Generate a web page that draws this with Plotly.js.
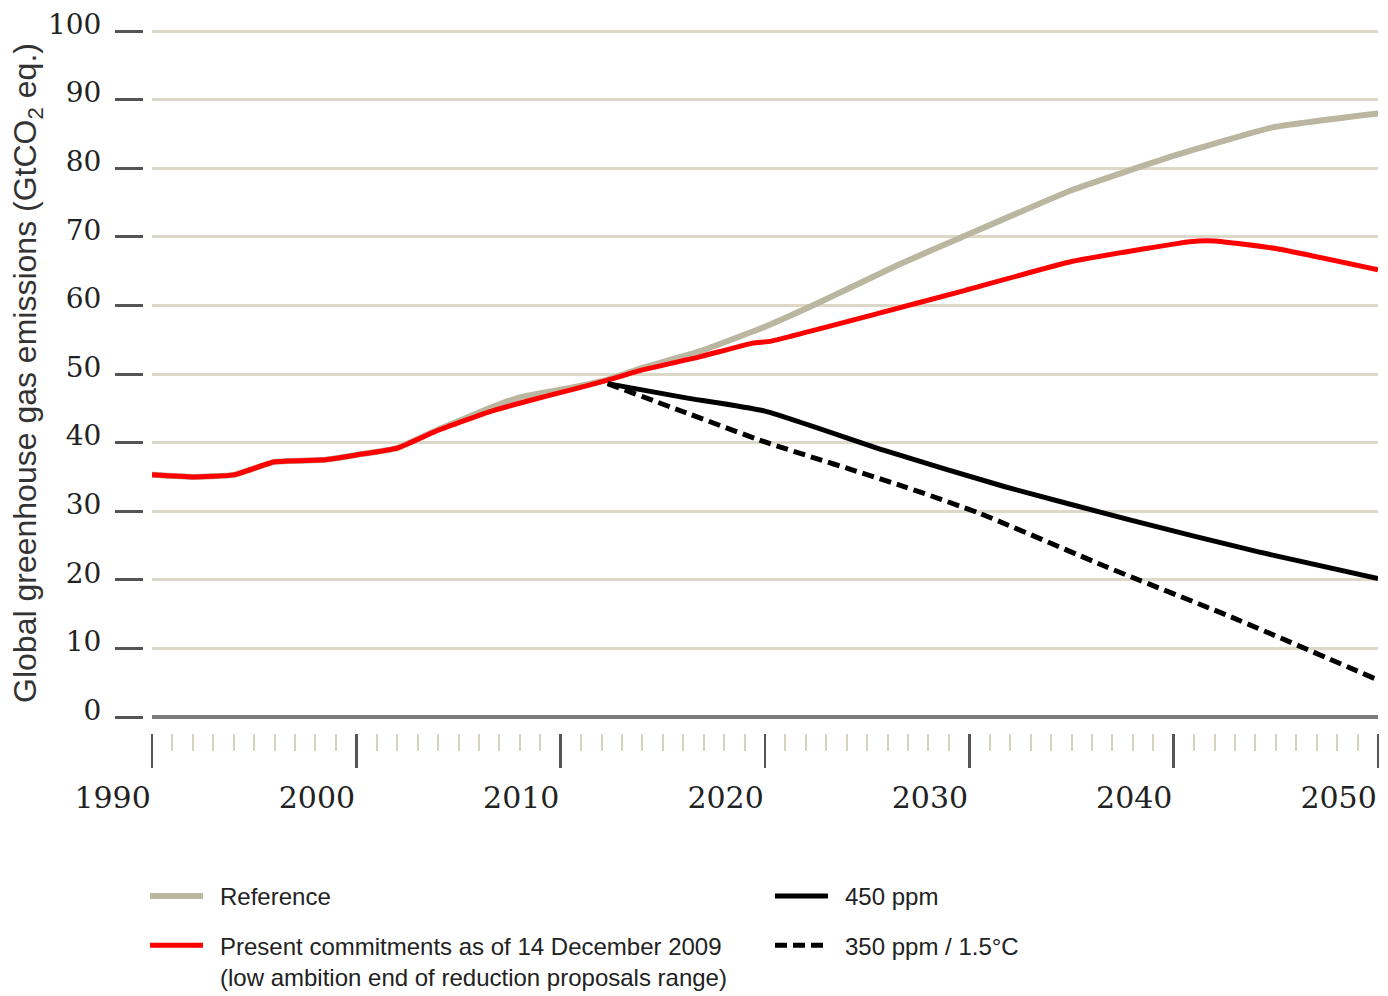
<!DOCTYPE html>
<html>
<head>
<meta charset="utf-8">
<script src="https://cdn.plot.ly/plotly-3.0.1.min.js"></script>
<style>
  html, body { margin: 0; padding: 0; background: #ffffff; }
  #chart { width: 1388px; height: 996px; }
</style>
</head>
<body>
<div id="chart"></div>
<script>
// ---- Data ----
const referenceYears  = [1990, 1992, 1994, 1996, 1998.5, 2000, 2002, 2004, 2006.5, 2008, 2010.5, 2012.3, 2014, 2016.8, 2020, 2022.7, 2026.5, 2029.6, 2035, 2040.1, 2044.9, 2050];
const referenceValues = [35.3, 35.0, 35.3, 37.2, 37.5, 38.2, 39.2, 41.9, 45.0, 46.6, 48.0, 49.2, 50.9, 53.3, 56.9, 60.5, 65.9, 69.9, 76.8, 81.9, 86.0, 88.0];

const commitYears  = [1990, 1992, 1994, 1996, 1998.5, 2000, 2002, 2004, 2006.5, 2008.3, 2010.5, 2012.3, 2014, 2016.8, 2019.4, 2020.3, 2025.5, 2029.8, 2035, 2040.8, 2042, 2045, 2050];
const commitValues = [35.3, 35.0, 35.3, 37.2, 37.5, 38.2, 39.2, 41.8, 44.5, 46.0, 47.7, 49.1, 50.6, 52.5, 54.5, 54.8, 58.8, 62.2, 66.4, 69.3, 69.4, 68.3, 65.2];

const ppm450Years  = [2012.3, 2016, 2020, 2025.8, 2031.7, 2037.9, 2044.1, 2050];
const ppm450Values = [48.6, 46.6, 44.6, 38.9, 33.6, 28.7, 24.1, 20.2];

const ppm350Years  = [2012.3, 2016, 2020, 2026.8, 2030.5, 2036.7, 2042.8, 2050];
const ppm350Values = [48.6, 44.5, 40.1, 33.6, 29.7, 21.9, 14.6, 5.4];

const seriesNames = [
  'Reference',
  'Present commitments as of 14 December 2009',
  '(low ambition end of reduction proposals range)',
  '450 ppm',
  '350 ppm / 1.5°C'
];

const yTickValues = [0, 10, 20, 30, 40, 50, 60, 70, 80, 90, 100];
const xTickValues = [1990, 2000, 2010, 2020, 2030, 2040, 2050];

const IND = '\u2002'; // small indent between legend symbol and text
// ---- Traces ----
const traces = [
  {
    x: referenceYears, y: referenceValues, name: IND + seriesNames[0],
    type: 'scatter', mode: 'lines', legend: 'legend', legendgroup: 'g1',
    line: { color: '#bab6a0', width: 6, shape: 'spline', smoothing: 0.4 }
  },
  {
    x: commitYears, y: commitValues, name: IND + seriesNames[1] + '<br>' + IND + seriesNames[2],
    type: 'scatter', mode: 'lines', legend: 'legend', legendgroup: 'g2',
    line: { color: '#ff0000', width: 5, shape: 'spline', smoothing: 0.4 }
  },
  {
    x: ppm450Years, y: ppm450Values, name: IND + seriesNames[3],
    type: 'scatter', mode: 'lines', legend: 'legend2', legendgroup: 'g3',
    line: { color: '#000000', width: 5, shape: 'spline', smoothing: 0.5 }
  },
  {
    x: ppm350Years, y: ppm350Values, name: IND + seriesNames[4],
    type: 'scatter', mode: 'lines', legend: 'legend2', legendgroup: 'g4',
    line: { color: '#000000', width: 5, dash: '12px,6px', shape: 'spline', smoothing: 0.5 }
  }
];

const W = 1388, H = 996;
const plotL = 100, plotR = 1378, plotT = 29, plotB = 733;
const plotW = plotR - plotL, plotH = plotB - plotT;

const legendFont = { family: 'Liberation Sans, Arial, sans-serif', size: 24, color: '#222222' };

const layout = {
  width: W, height: H,
  paper_bgcolor: '#ffffff', plot_bgcolor: '#ffffff',
  margin: { l: plotL, r: W - plotR, t: plotT, b: H - plotB, pad: 0, autoexpand: false },
  showlegend: true,
  xaxis: {
    range: [1990, 2050],
    domain: [(152 - plotL) / plotW, 1],
    anchor: 'free', position: 0, automargin: false,
    showgrid: false, zeroline: false, showline: false,
    tickmode: 'array', tickvals: xTickValues,
    ticks: 'outside', ticklen: 34, tickwidth: 2.5, tickcolor: '#555555',
    ticklabelposition: 'outside left',
    ticklabelstandoff: 38,
    tickfont: { family: 'DejaVu Serif, serif', size: 30, color: '#222222' },
    minor: { dtick: 1, ticks: 'outside', ticklen: 17, tickwidth: 2, tickcolor: '#d6d2bc', showgrid: false },
    fixedrange: true
  },
  yaxis: {
    range: [0, 100.3],
    domain: [(plotB - 717) / plotH, 1],
    anchor: 'free', position: (143 - plotL) / plotW, automargin: false,
    showgrid: true, gridcolor: '#dcd9c9', gridwidth: 3,
    zeroline: true, zerolinecolor: '#7d7d7d', zerolinewidth: 3.5,
    showline: false,
    tickmode: 'array', tickvals: yTickValues,
    ticks: 'outside', ticklen: 28, tickwidth: 3, tickcolor: '#555555',
    ticklabelstandoff: 8,
    ticklabelshift: -7,
    tickfont: { family: 'DejaVu Serif, serif', size: 28, color: '#222222' },
    title: {
      text: 'Global greenhouse gas emissions (GtCO<sub>2</sub> eq.)',
      font: { family: 'Liberation Sans, Arial, sans-serif', size: 32, color: '#333333' },
      standoff: 0
    },
    fixedrange: true
  },
  legend: {
    xref: 'paper', yref: 'paper',
    x: (145 - plotL) / plotW, y: -(874 - plotB) / plotH, xanchor: 'left', yanchor: 'top',
    orientation: 'v', traceorder: 'grouped', tracegroupgap: 15,
    valign: 'top', font: legendFont, bgcolor: 'rgba(0,0,0,0)', borderwidth: 0,
    itemwidth: 53
  },
  legend2: {
    xref: 'paper', yref: 'paper',
    x: (770 - plotL) / plotW, y: -(874 - plotB) / plotH, xanchor: 'left', yanchor: 'top',
    orientation: 'v', traceorder: 'grouped', tracegroupgap: 15,
    valign: 'top', font: legendFont, bgcolor: 'rgba(0,0,0,0)', borderwidth: 0,
    itemwidth: 53
  }
};

Plotly.newPlot('chart', traces, layout, { displayModeBar: false, staticPlot: true });
</script>
</body>
</html>
